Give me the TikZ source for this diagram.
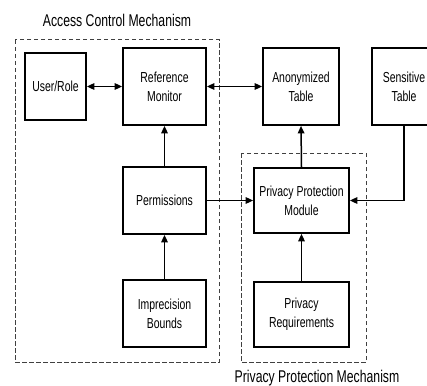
\documentclass[tikz,border=0pt]{standalone}
\usepackage{fontspec}
\setmainfont[FakeStretch=0.72]{Liberation Sans}
\usetikzlibrary{arrows.meta}
\begin{document}
\begin{tikzpicture}[x=1pt,y=-1pt,
  blk/.style={draw, line width=1.7pt, inner sep=0pt, align=center,
    font=\fontsize{14.5}{19}\selectfont},
  grp/.style={draw=black!75, dashed, dash pattern=on 4.5pt off 2.5pt, line width=1pt},
  ttl/.style={font=\fontsize{17}{19}\selectfont, inner sep=0pt},
  arr/.style={line width=1.5pt, -{Triangle[length=7.5pt,width=6.5pt]}},
  darr/.style={line width=1.5pt, {Triangle[length=7.5pt,width=6.5pt]}-{Triangle[length=7.5pt,width=6.5pt]}}]
\clip (0,0) rectangle (427,385);
\fill[white] (0,0) rectangle (427,385);
% groups
\draw[grp] (15,40) rectangle (219,362);
\draw[grp] (241,153) rectangle (366,362);
\node[ttl] (acmt) at (117,20) {Access Control Mechanism};
\node[ttl] (ppmt) at (317,378) {Privacy Protection Mechanism};
% blocks
\node[blk, minimum width=61pt, minimum height=67pt] (user) at (55.5,86.5) {User/Role};
\node[blk, minimum width=83pt, minimum height=77pt] (ref) at (164.5,86.5) {Reference\\Monitor};
\node[blk, minimum width=83pt, minimum height=67pt] (perm) at (164.5,200.5) {Permissions};
\node[blk, minimum width=83pt, minimum height=67pt] (imp) at (164.5,313.5) {Imprecision\\Bounds};
\node[blk, minimum width=76pt, minimum height=77pt] (anon) at (301,86.5) {Anonymized\\Table};
\node[blk, minimum width=64pt, minimum height=77pt] (sens) at (404,86.5) {Sensitive\\Table};
\node[blk, minimum width=95pt, minimum height=65pt] (ppm) at (301.5,200.5) {Privacy Protection\\Module};
\node[blk, minimum width=95pt, minimum height=65pt] (req) at (301.5,314.5) {Privacy\\Requirements};
% connectors
\draw[darr] (user.east) -- (ref.west);
\draw[darr] (ref.east) -- (anon.west);
\draw[arr] (perm.north) -- (ref.south);
\draw[arr] (imp.north) -- (perm.south);
\draw[arr] (perm.east) -- (ppm.west);
\draw[arr] (ppm.north) -- (anon.south);
\draw[arr] (req.north) -- (ppm.south);
\draw[arr] (sens.south) |- (ppm.east);
\end{tikzpicture}
\end{document}
